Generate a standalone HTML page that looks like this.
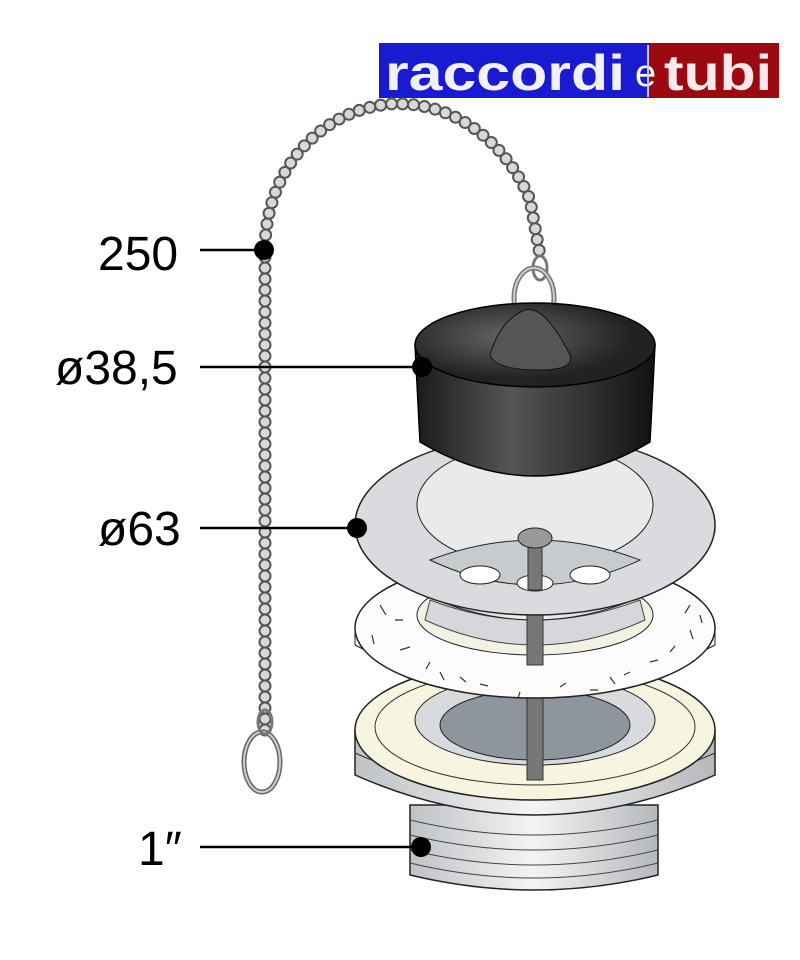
<!DOCTYPE html>
<html><head><meta charset="utf-8"><style>
html,body{margin:0;padding:0;background:#fff;}
svg{display:block;}
text{font-family:"Liberation Sans",sans-serif;}
</style></head><body>
<svg width="800" height="960" viewBox="0 0 800 960" xmlns="http://www.w3.org/2000/svg">
<defs>
<linearGradient id="blk" x1="0" x2="1"><stop offset="0" stop-color="#1a1a1a"/><stop offset="0.4" stop-color="#555"/><stop offset="1" stop-color="#111"/></linearGradient>
<linearGradient id="met" x1="0" x2="1"><stop offset="0" stop-color="#bfc2c6"/><stop offset="0.5" stop-color="#f3f4f5"/><stop offset="1" stop-color="#b5b8bc"/></linearGradient>
<radialGradient id="top" cx="0.4" cy="0.4"><stop offset="0" stop-color="#666"/><stop offset="1" stop-color="#222"/></radialGradient>
</defs>
<!-- logo -->
<rect x="379" y="43" width="270" height="55" fill="#1a1ad0"/>
<rect x="649" y="43" width="130" height="55" fill="#9a0a10"/>
<text x="385" y="90" font-size="50" font-weight="bold" fill="#f0f0ff" textLength="240" lengthAdjust="spacingAndGlyphs">raccordi</text>
<text x="635" y="86" font-size="38" fill="#fff">e</text>
<line x1="648" y1="45" x2="648" y2="97" stroke="#ccd" stroke-width="2"/>
<text x="664" y="90" font-size="50" font-weight="bold" fill="#ffe8ea" textLength="108" lengthAdjust="spacingAndGlyphs">tubi</text>
<!-- chain -->
<path d="M265 730 L265 250 C265 170 320 110 390 104 C460 100 510 150 530 200 L540 255" fill="none" stroke="#555" stroke-width="13" stroke-linecap="round" stroke-dasharray="0 11"/>
<path d="M265 730 L265 250 C265 170 320 110 390 104 C460 100 510 150 530 200 L540 255" fill="none" stroke="#d8d8d8" stroke-width="9" stroke-linecap="round" stroke-dasharray="0 11"/>
<ellipse cx="262" cy="762" rx="18" ry="30" fill="none" stroke="#666" stroke-width="5"/>
<ellipse cx="262" cy="762" rx="18" ry="30" fill="none" stroke="#ccc" stroke-width="2"/>
<ellipse cx="265" cy="722" rx="7" ry="12" fill="none" stroke="#777" stroke-width="3"/>
<ellipse cx="540" cy="268" rx="7" ry="12" fill="none" stroke="#777" stroke-width="3"/>
<ellipse cx="534" cy="298" rx="20" ry="30" fill="none" stroke="#777" stroke-width="5"/>
<ellipse cx="534" cy="298" rx="20" ry="30" fill="none" stroke="#ccc" stroke-width="2"/>
<!-- threaded body -->
<path d="M410 805 L410 875 Q535 905 658 875 L658 805 Z" fill="url(#met)" stroke="#222" stroke-width="1.5"/>
<g fill="none" stroke="#444" stroke-width="1">
<path d="M410 820 Q535 850 658 820"/><path d="M410 835 Q535 865 658 835"/><path d="M410 850 Q535 880 658 850"/><path d="M410 863 Q535 893 658 863"/>
</g>
<!-- lower body -->
<path d="M355 730 L355 775 Q535 855 715 775 L715 730 Z" fill="url(#met)" stroke="#222" stroke-width="1.5"/>
<path d="M355 753 Q535 833 715 753" fill="none" stroke="#333"/>
<ellipse cx="535" cy="730" rx="180" ry="70" fill="#f7f5df" stroke="#222" stroke-width="1.5"/>
<ellipse cx="535" cy="727" rx="160" ry="58" fill="none" stroke="#333"/>
<ellipse cx="535" cy="720" rx="120" ry="45" fill="#d8dadd" stroke="#222"/>
<ellipse cx="535" cy="725" rx="95" ry="35" fill="#8e959c" stroke="#222"/>
<rect x="527" y="690" width="16" height="90" fill="#777" stroke="#333"/>
<!-- foam gasket -->
<path d="M355 628 L355 645 Q535 740 715 645 L715 628 Z" fill="#fafafa" stroke="#222"/>
<ellipse cx="535" cy="628" rx="180" ry="70" fill="#fcfcfc" stroke="#222" stroke-width="1.5"/>
<ellipse cx="535" cy="615" rx="118" ry="40" fill="#f2f1e4" stroke="#222"/>
<path d="M425 620 Q535 670 645 620 L640 600 Q535 640 430 600Z" fill="#d5d7da" stroke="#444"/>
<g stroke="#333" stroke-width="1.2">
<path d="M380 605l6 10M400 650l10-3M440 672l4 8M480 684l8 2M560 687l6-4M610 677l5 7M650 662l8-2M690 630l3 9M690 605l-5 8M395 620l8 0M430 662l-4 7M520 692l-2 6M590 690l8 0M670 652l5-6M372 635l2 9M460 677l6 5M630 672l-6 3M700 615l2 8"/>
</g>
<!-- strainer cup -->
<path d="M418 505 L425 595 Q535 645 645 595 L652 505 Z" fill="url(#met)" stroke="#222"/>
<rect x="527" y="540" width="16" height="125" fill="#777" stroke="#333"/>
<!-- flange -->
<path d="M355 525 L355 532 Q535 625 715 532 L715 525 Z" fill="#d0d2d5" stroke="#222"/>
<ellipse cx="535" cy="525" rx="180" ry="90" fill="#d9dbde" stroke="#222" stroke-width="1.5"/>
<ellipse cx="535" cy="505" rx="118" ry="62" fill="#e9eaec" stroke="#222"/>
<path d="M430 560 Q535 610 640 560 Q535 520 430 560Z" fill="#c8cbce" stroke="#222"/>
<ellipse cx="480" cy="575" rx="20" ry="9" fill="#fff" stroke="#222"/>
<ellipse cx="590" cy="575" rx="20" ry="9" fill="#fff" stroke="#222"/>
<ellipse cx="535" cy="583" rx="18" ry="8" fill="#fff" stroke="#222"/>
<rect x="528" y="540" width="14" height="50" fill="#777" stroke="#333"/>
<ellipse cx="535" cy="538" rx="17" ry="10" fill="#999" stroke="#222"/>
<!-- stopper -->
<path d="M415 345 L420 442 Q535 510 650 442 L655 345 Z" fill="url(#blk)" stroke="#000" stroke-width="1.5"/>
<ellipse cx="535" cy="345" rx="120" ry="42" fill="url(#top)" stroke="#000" stroke-width="1.5"/>
<path d="M490 355 Q500 320 525 310 Q545 305 570 355 Q575 370 540 370 Q495 370 490 355Z" fill="#555" stroke="#111"/>
<!-- labels -->
<g fill="#000" font-size="48">
<text x="98" y="270">250</text>
<text x="55" y="384">ø38,5</text>
<text x="98" y="545">ø63</text>
<text x="138" y="865">1″</text>
</g>
<g stroke="#000" stroke-width="2.5">
<line x1="200" y1="250" x2="262" y2="250"/>
<line x1="200" y1="367" x2="422" y2="367"/>
<line x1="200" y1="528" x2="357" y2="528"/>
<line x1="200" y1="847" x2="420" y2="847"/>
</g>
<circle cx="264" cy="250" r="10" fill="#000"/>
<circle cx="422" cy="367" r="10" fill="#000"/>
<circle cx="357" cy="528" r="10" fill="#000"/>
<circle cx="421" cy="847" r="10" fill="#000"/>
</svg>
</body></html>
